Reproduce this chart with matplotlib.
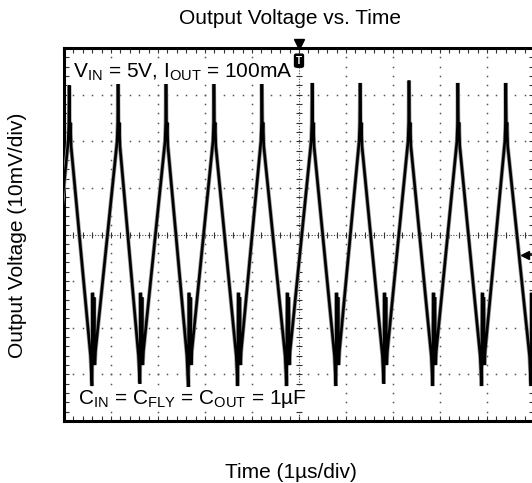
import matplotlib
matplotlib.use("Agg")
import matplotlib.pyplot as plt
import numpy as np

plt.rcParams['font.family'] = ['Liberation Sans', 'DejaVu Sans']
plt.rcParams['mathtext.fontset'] = 'custom'
plt.rcParams['mathtext.rm'] = 'Liberation Sans'
plt.rcParams['mathtext.it'] = 'Liberation Sans:italic'
plt.rcParams['mathtext.bf'] = 'Liberation Sans:bold'

# ---- data read from the scope capture (time in us, voltage in mV) ----
peak_times = [0.11, 1.15, 2.17, 3.19, 4.21, 5.28, 6.30, 7.34, 8.38, 9.40, 10.45]
peak_tops = [32.0, 32.5, 32.5, 32.5, 32.5, 32.5, 32.5, 33.0, 32.5, 32.5, 32.5]
trough_times = [-0.42, 0.60, 1.62, 2.65, 3.70, 4.74, 5.79, 6.81, 7.85, 8.89, 9.94]
trough_bottoms = [-32.5, -32.5, -32.0, -33.0, -32.5, -32.5, -32.5, -32.0, -32.5, -32.5, -32.5]
ramp_high = 20.0      # triangle apex (mV) before the switching spike
ramp_low = -26.0      # triangle valley (mV) before the switching spike
trough_ring = -12.5   # ringing spikes inside each valley (mV)

# spike templates (time offset us, level mV); None = the read peak/trough value
peak_dt = [-0.02, -0.006, 0.0, 0.012, 0.025, 0.04]
peak_lv = [ramp_high, 24.0, None, 21.0, 24.0, 19.0]
trough_dt = [-0.035, -0.005, 0.01, 0.025, 0.04, 0.055, 0.07]
trough_lv = [ramp_low, None, trough_ring, -28.0, trough_ring - 1.0, -28.0, ramp_low + 1]

events = sorted([(t, 'p', v) for t, v in zip(peak_times, peak_tops)] +
                [(t, 't', v) for t, v in zip(trough_times, trough_bottoms)])
ts, vs = [], []
for t, kind, v in events:
    dts, lvs = (peak_dt, peak_lv) if kind == 'p' else (trough_dt, trough_lv)
    for d, lv in zip(dts, lvs):
        ts.append(t + d)
        vs.append(v if lv is None else lv)

W, H = 532, 483
fig = plt.figure(figsize=(W / 100, H / 100), dpi=100)
left, right, top, bottom = 64, 534, 48, 421
ax = fig.add_axes([left / W, 1 - bottom / H, (right - left) / W, (bottom - top) / H])
ax.set_xlim(0, 10)
ax.set_ylim(-40, 40)

# grid dots
minor = np.arange(0, 10.001, 0.2)
minor_y = np.arange(-40, 40.001, 2)
for gx in [1, 2, 3, 4, 6, 7, 8, 9]:
    ax.plot([gx] * len(minor_y), minor_y, ls='none', marker='s', ms=1.1, color='#555', mew=0)
for gy in [-30, -20, -10, 10, 20, 30]:
    ax.plot(minor, [gy] * len(minor), ls='none', marker='s', ms=1.1, color='#555', mew=0)
# center crosshair
ax.plot([0, 10], [0, 0], color='#444', lw=0.8, ls=(0, (1, 1.5)))
ax.plot([5, 5], [-40, 40], color='#444', lw=0.8, ls=(0, (1, 1.5)))
ax.plot(minor, [0] * len(minor), ls='none', marker='|', ms=5, color='#333', mew=0.8)
ax.plot([5] * len(minor_y), minor_y, ls='none', marker='_', ms=5, color='#333', mew=0.8)

# waveform (persistence look)
ax.plot(ts, vs, color='#999', lw=3.0, solid_joinstyle='miter', zorder=3)
ax.plot(ts, vs, color='black', lw=1.9, solid_joinstyle='miter', zorder=4)

# frame and ticks
for s in ax.spines.values():
    s.set_linewidth(2.2)
ax.set_xticks(np.arange(0, 10.001, 1))
ax.set_yticks(np.arange(-40, 40.001, 10))
ax.set_xticks(minor, minor=True)
ax.set_yticks(minor_y, minor=True)
ax.tick_params(which='both', direction='in', top=True, right=True, length=3.5, width=0.8,
               labelbottom=False, labelleft=False, color='#333')

# annotations
ax.text(0.19, 34.8, r'V$_{\mathrm{IN}}$ = 5V, I$_{\mathrm{OUT}}$ = 100mA', fontsize=15,
        va='center', ha='left', zorder=6,
        bbox=dict(facecolor='white', edgecolor='none', pad=0.5))
ax.text(0.30, -35.3, r'C$_{\mathrm{IN}}$ = C$_{\mathrm{FLY}}$ = C$_{\mathrm{OUT}}$ = 1µF', fontsize=15,
        va='center', ha='left', zorder=6,
        bbox=dict(facecolor='white', edgecolor='none', pad=0.5))

# trigger marker & ground marker
ax.plot([5], [40.9], marker='v', ms=7, color='black', clip_on=False, zorder=7)
ax.text(5, 37.3, 'T', fontsize=7, color='white', ha='center', va='center', weight='bold', zorder=7,
        bbox=dict(boxstyle='round,pad=0.15', facecolor='black', edgecolor='black'))
ax.plot([9.8], [-4.4], marker='<', ms=6, color='black', clip_on=False, zorder=7)
ax.plot([9.8, 10.2], [-4.4, -4.4], color='black', lw=1.2, clip_on=False, zorder=7)

fig.text(290 / W, 1 - 18.7 / H, 'Output Voltage vs. Time', ha='center', va='center', fontsize=15)
fig.text(291 / W, 1 - 472 / H, 'Time (1µs/div)', ha='center', va='center', fontsize=15)
fig.text(18 / W, 1 - 235 / H, 'Output Voltage (10mV/div)', ha='center', va='center',
         rotation=90, fontsize=15)

fig.savefig('out.png', dpi=100)
